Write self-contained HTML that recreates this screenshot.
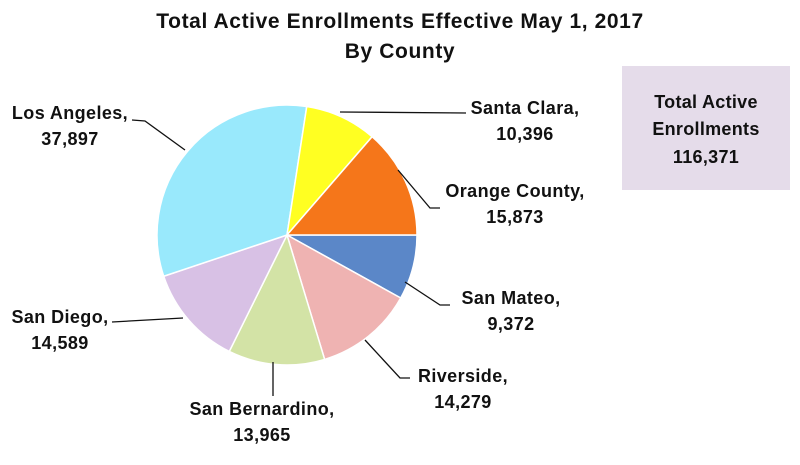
<!DOCTYPE html>
<html><head><meta charset="utf-8"><style>
body{margin:0;background:#fff;width:800px;height:460px;overflow:hidden;font-family:"Liberation Sans",sans-serif}
svg text{font-family:"Liberation Sans",sans-serif;font-weight:bold;fill:#111}
</style></head><body>
<svg id="chart" width="800" height="460" viewBox="0 0 800 460">
<text x="400" y="28" text-anchor="middle" font-size="21" letter-spacing="0.6">Total Active Enrollments Effective May 1, 2017</text>
<text x="400" y="58" text-anchor="middle" font-size="21" letter-spacing="0.6">By County</text>
<rect x="622" y="66" width="168" height="124" fill="#e5dcea"/>
<text x="706" y="108" text-anchor="middle" font-size="18" letter-spacing="0.3">Total Active</text>
<text x="706" y="135" text-anchor="middle" font-size="18" letter-spacing="0.3">Enrollments</text>
<text x="706" y="163" text-anchor="middle" font-size="18" letter-spacing="0.3">116,371</text>
<g id="slices"></g><g id="labels"></g>
</svg>
<script>
const categories=["San Mateo","Riverside","San Bernardino","San Diego","Los Angeles","Santa Clara","Orange County"];
const values=[9372,14279,13965,14589,37897,10396,15873];
const valueLabels=["9,372","14,279","13,965","14,589","37,897","10,396","15,873"];
const colors=["#5b87c8","#efb3b2","#d3e3a6","#d8c1e5","#99e9fc","#ffff22","#f5761a"];
const cx=287,cy=235,r=130;
const ns="http://www.w3.org/2000/svg";
const total=values.reduce((a,b)=>a+b,0);
const g=document.getElementById('slices');
let a0=0;
function pt(a,rr){return [cx+rr*Math.cos(a),cy+rr*Math.sin(a)];}
values.forEach((v,i)=>{
  const a1=a0+v/total*2*Math.PI;
  const p0=pt(a0,r),p1=pt(a1,r);
  const p=document.createElementNS(ns,'path');
  p.setAttribute('d',`M${cx},${cy}L${p0[0]},${p0[1]}A${r},${r} 0 ${a1-a0>Math.PI?1:0} 1 ${p1[0]},${p1[1]}Z`);
  p.setAttribute('fill',colors[i]);p.setAttribute('stroke','#fff');p.setAttribute('stroke-width','1.5');
  
  
  g.appendChild(p);
  a0=a1;
});
const layout=[
 {x:511,y:304,line:"405,282 440,305 450,305"},
 {x:463,y:382,line:"365,340 400,378 410,378"},
 {x:262,y:415,line:"273,362 273,396"},
 {x:60,y:323,line:"183,318 112,322"},
 {x:70,y:119,line:"132,120 145,121 185,150"},
 {x:525,y:114,line:"340,112 466,113"},
 {x:515,y:197,line:"398,170 430,208 440,208"}
];
const lg=document.getElementById('labels');
categories.forEach((c,i)=>{
  const L=layout[i];
  const pl=document.createElementNS(ns,'polyline');
  pl.setAttribute('points',L.line);pl.setAttribute('fill','none');pl.setAttribute('stroke','#111');pl.setAttribute('stroke-width','1.3');
  
  
  lg.appendChild(pl);
  [c+",",valueLabels[i]].forEach((t,j)=>{
    const tx=document.createElementNS(ns,'text');
    tx.setAttribute('x',L.x);tx.setAttribute('y',L.y+j*26);tx.setAttribute('text-anchor','middle');tx.setAttribute('font-size','18');tx.setAttribute('letter-spacing','0.4');
    tx.textContent=t;
    
    
    lg.appendChild(tx);
  });
});
</script>
</body></html>
